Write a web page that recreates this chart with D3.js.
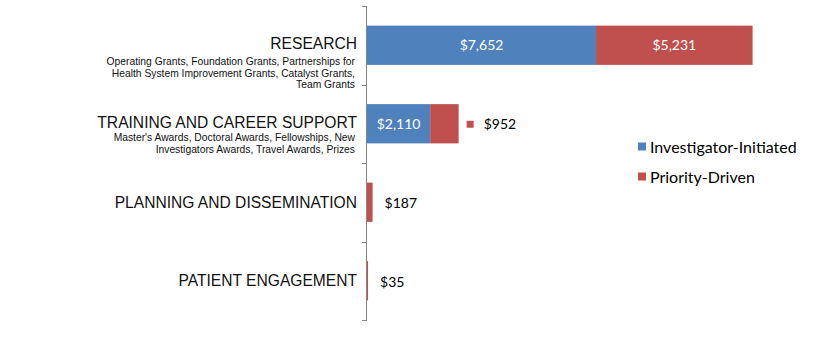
<!DOCTYPE html>
<html><head><meta charset="utf-8">
<script src="https://cdn.jsdelivr.net/npm/d3@7"></script>
<style>body{margin:0;background:#fff}svg{display:block}</style>
</head><body>
<svg id="c" width="833" height="355"></svg>
<script>
const categories = ["RESEARCH","TRAINING AND CAREER SUPPORT","PLANNING AND DISSEMINATION","PATIENT ENGAGEMENT"];
const subtitles = [
  ["Operating Grants, Foundation Grants, Partnerships for","Health System Improvement Grants, Catalyst Grants,","Team Grants"],
  ["Master's Awards, Doctoral Awards, Fellowships, New","Investigators Awards, Travel Awards, Prizes"],
  [],
  []
];
const seriesNames = ["Investigator-Initiated","Priority-Driven"];
const investigatorInitiated = [7652, 2110, 0, 0];
const priorityDriven = [5231, 952, 187, 35];
const colors = ["#4F81BD","#C0504D"];

const svg = d3.select("#c");
const x0 = 367, yTop = 6, yBot = 320;
const x = d3.scaleLinear().domain([0, 12883]).range([x0, 752.6]);
const y = d3.scaleBand().domain(categories).range([yTop, yBot]).paddingInner(0.5).paddingOuter(0.25);

const valFont = "Lato, 'Open Sans', sans-serif";
const fmt = v => "$" + d3.format(",")(v);

// bars
const series = [investigatorInitiated, priorityDriven];
categories.forEach((c, i) => {
  let start = 0;
  series.forEach((s, k) => {
    const v = s[i];
    if (v > 0) {
      svg.append("rect")
        .attr("x", x(start)).attr("y", y(c))
        .attr("width", x(start + v) - x(start)).attr("height", y.bandwidth())
        .attr("fill", colors[k]);
      const w = x(start + v) - x(start);
      const cy = y(c) + y.bandwidth() / 2;
      if (w > 50) {
        svg.append("text").attr("x", (x(start) + x(start + v)) / 2).attr("y", cy)
          .attr("dy", "0.35em").attr("text-anchor", "middle")
          .attr("fill", "#fff").style("font-family", valFont).style("font-size", "14px")
          .text(fmt(v));
      } else {
        const ex = x(start + v);
        if (i === 1) {
          svg.append("rect").attr("x", ex + 8).attr("y", cy - 3).attr("width", 7).attr("height", 7).attr("fill", colors[k]);
          svg.append("text").attr("x", ex + 25).attr("y", cy).attr("dy", "0.35em")
            .attr("fill", "#000").style("font-family", valFont).style("font-size", "14px").text(fmt(v));
        } else {
          svg.append("text").attr("x", ex + 12).attr("y", cy + 1).attr("dy", "0.35em")
            .attr("fill", "#000").style("font-family", valFont).style("font-size", "14px").text(fmt(v));
        }
      }
    }
    start += v;
  });
});

// axis line and ticks
const tickYs = [yTop];
categories.forEach(c => tickYs.push(y(c) + y.bandwidth() / 2 + y.step() / 2));
svg.append("line").attr("x1", x0 - 0.5).attr("x2", x0 - 0.5).attr("y1", yTop).attr("y2", yBot)
  .attr("stroke", "#868686").attr("stroke-width", 1);
tickYs.forEach(t => {
  svg.append("line").attr("x1", x0 - 5).attr("x2", x0).attr("y1", Math.round(t) + 0.5).attr("y2", Math.round(t) + 0.5)
    .attr("stroke", "#868686");
});

// category labels
const labFont = "'Liberation Sans', Arial, sans-serif";
categories.forEach((c, i) => {
  const cy = y(c) + y.bandwidth() / 2;
  const subs = subtitles[i];
  let mainY = cy, subOff = 0;
  if (subs.length === 3) { mainY = cy - 1.5; subOff = 18; }
  if (subs.length === 2) { mainY = cy - 1; subOff = 15; }
  svg.append("text").attr("x", 357).attr("y", mainY).attr("dy", "0.35em").attr("text-anchor", "end")
    .attr("fill", "#111").style("font-family", labFont).style("font-size", "15.6px").text(c);
  subs.forEach((s, j) => {
    svg.append("text").attr("x", 355).attr("y", mainY + subOff + j * 11.5).attr("dy", "0.35em").attr("text-anchor", "end")
      .attr("fill", "#111").style("font-family", labFont).style("font-size", "10.3px").text(s);
  });
});

// legend
seriesNames.forEach((n, k) => {
  const ly = 147 + k * 30;
  svg.append("rect").attr("x", 638).attr("y", ly - 4.5).attr("width", 8).attr("height", 8).attr("fill", colors[k]);
  svg.append("text").attr("x", 650).attr("y", ly).attr("dy", "0.35em").attr("fill", "#000")
    .style("font-family", valFont).style("font-size", "16px").text(n);
});
</script>
</body></html>
